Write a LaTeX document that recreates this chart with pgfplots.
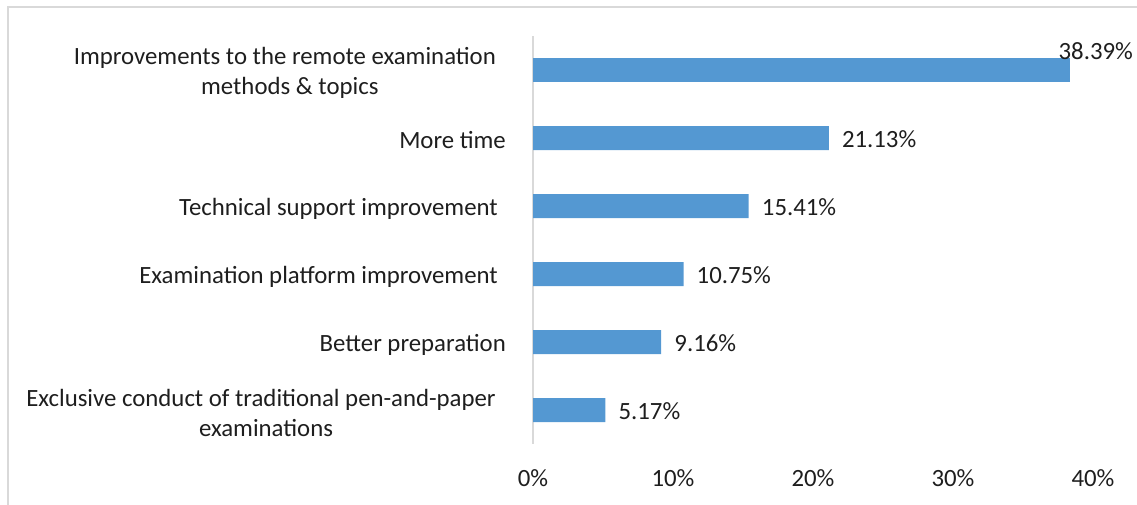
\documentclass[border=0pt]{standalone}
\usepackage{fontspec}
\setmainfont{Carlito}
\usepackage{pgfplots}
\pgfplotsset{compat=1.18}
\definecolor{barblue}{HTML}{5498D2}
\definecolor{axgray}{HTML}{D9D9D9}
\definecolor{txt}{HTML}{1E1E1E}
\begin{document}
\begin{tikzpicture}[x=1pt,y=1pt]
\useasboundingbox (0,0) rectangle (1137,504);
\draw[axgray, line width=1.5pt] (8,-10) -- (8,497) -- (1150,497);
\begin{axis}[
  at={(533pt,60pt)}, anchor=south west,
  scale only axis, width=560pt, height=408pt,
  xmin=0, xmax=40, ymin=-0.5, ymax=5.5,
  y dir=reverse,
  axis line style={draw=none},
  major tick length=0pt,
  font=\fontsize{24.8}{30}\selectfont,
  every tick label/.append style={text=txt},
  xtick={0,10,20,30,40},
  xticklabels={0\%,10\%,20\%,30\%,40\%},
  xticklabel style={inner sep=0pt, anchor=north, yshift=-25pt},
  ytick={0,1,2,3,4,5},
  yticklabels={{Improvements to the remote examination\hspace*{10pt}\\methods \& topics},
    {More time},
    {Technical support improvement\hspace*{8pt}},
    {Examination platform improvement\hspace*{8pt}},
    {Better preparation},
    {Exclusive conduct of traditional pen-and-paper\hspace*{10pt}\\examinations}},
  yticklabel style={inner sep=0pt, anchor=east, align=center, xshift=-27pt, yshift=-2.5pt},
  clip=false,
]
\draw[axgray, line width=1.5pt] (axis cs:0,-0.5) -- (axis cs:0,5.5);
\addplot[xbar, bar width=24pt, bar shift=0pt, fill=barblue, draw=none,
  point meta=x,
  nodes near coords={\pgfmathprintnumber[fixed,fixed zerofill,precision=2,assume math mode=true]{\pgfplotspointmeta}\%},
  every node near coord/.append style={text=txt, inner sep=2pt, anchor=west, xshift=11pt, yshift=-1.5pt, font=\fontsize{24.8}{30}\selectfont}]
  coordinates {(21.13,1) (15.41,2) (10.75,3) (9.16,4) (5.17,5)};
\addplot[xbar, bar width=24pt, bar shift=0pt, fill=barblue, draw=none,
  point meta=x,
  nodes near coords={\pgfmathprintnumber[fixed,fixed zerofill,precision=2,assume math mode=true]{\pgfplotspointmeta}\%},
  every node near coord/.append style={text=txt, inner sep=2pt, anchor=base west, xshift=-14pt, yshift=10.5pt, font=\fontsize{24.8}{30}\selectfont}]
  coordinates {(38.39,0)};
\end{axis}
\end{tikzpicture}
\end{document}
